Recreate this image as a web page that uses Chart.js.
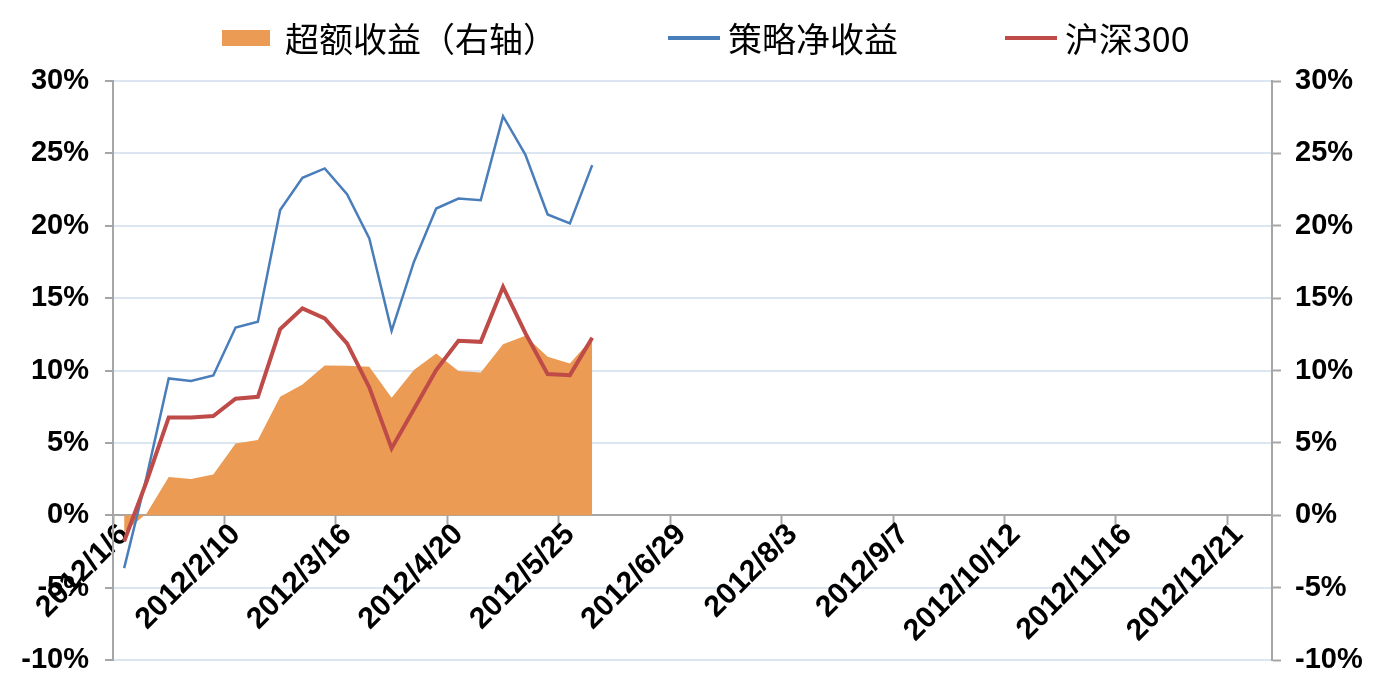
<!DOCTYPE html>
<html>
<head>
<meta charset="utf-8">
<script src="https://cdn.jsdelivr.net/npm/chart.js@4/dist/chart.umd.min.js"></script>
<style>
  html, body { margin: 0; padding: 0; background: #ffffff; }
  #wrap { width: 1380px; height: 678px; position: relative; }
</style>
</head>
<body>
<div id="wrap"><canvas id="c"></canvas></div>
<script>
const categories = [
  "2012/1/6","2012/1/13","2012/1/20","2012/1/27","2012/2/3","2012/2/10","2012/2/17","2012/2/24",
  "2012/3/2","2012/3/9","2012/3/16","2012/3/23","2012/3/30","2012/4/6","2012/4/13","2012/4/20",
  "2012/4/27","2012/5/4","2012/5/11","2012/5/18","2012/5/25","2012/6/1","2012/6/8","2012/6/15",
  "2012/6/22","2012/6/29","2012/7/6","2012/7/13","2012/7/20","2012/7/27","2012/8/3","2012/8/10",
  "2012/8/17","2012/8/24","2012/8/31","2012/9/7","2012/9/14","2012/9/21","2012/9/28","2012/10/5",
  "2012/10/12","2012/10/19","2012/10/26","2012/11/2","2012/11/9","2012/11/16","2012/11/23","2012/11/30",
  "2012/12/7","2012/12/14","2012/12/21","2012/12/28"
];
const seriesNames = ["超额收益（右轴）", "策略净收益", "沪深300"];
// values in %
const excessReturn = [-1.15, 0.1, 2.64, 2.5, 2.82, 4.96, 5.19, 8.18, 9.04, 10.35, 10.33, 10.26, 8.12, 10.03, 11.18, 9.96, 9.87, 11.82, 12.4, 10.95, 10.49, 12.22];
const strategyReturn = [-3.65, 2.6, 9.45, 9.27, 9.66, 12.97, 13.37, 21.08, 23.31, 23.96, 22.18, 19.12, 12.74, 17.5, 21.19, 21.88, 21.77, 27.57, 24.92, 20.78, 20.16, 24.19];
const hs300Return = [-1.8, 2.3, 6.76, 6.76, 6.85, 8.05, 8.18, 12.86, 14.29, 13.6, 11.87, 8.83, 4.62, 7.33, 10.03, 12.05, 11.98, 15.78, 12.58, 9.75, 9.68, 12.26];
const yMin = -10, yMax = 30, yStep = 5;
const labelEvery = 5;

const axisGray = '#A6A6A6';
const gridBlue = '#DCE6F2';
const tickFont = { family: '"Liberation Sans", Arial, sans-serif', size: 29, weight: 'bold' };

// custom legend drawn with the datasets' own styles
const legendStarts = [222, 668, 1005];
const customLegend = {
  id: 'customLegend',
  afterDraw(chart) {
    const ctx = chart.ctx;
    const cy = 38;
    ctx.save();
    ctx.font = '34px "Noto Sans CJK SC", "Liberation Sans", sans-serif';
    ctx.textBaseline = 'middle';
    ctx.textAlign = 'left';
    chart.data.datasets.forEach((ds, i) => {
      const x = legendStarts[i];
      let textX;
      if (ds.fill) {
        ctx.fillStyle = ds.backgroundColor;
        ctx.fillRect(x, cy - 8, 48, 16);
        textX = x + 63;
      } else {
        ctx.strokeStyle = ds.borderColor;
        ctx.lineWidth = 4;
        ctx.beginPath();
        ctx.moveTo(x, cy);
        ctx.lineTo(x + 52, cy);
        ctx.stroke();
        textX = x + 60;
      }
      ctx.fillStyle = '#000000';
      ctx.fillText(ds.label, textX, cy + 1);
    });
    ctx.restore();
  }
};

const fixVertical = (w) => (scale) => {
  scale.width = w;
  scale.paddingTop = 0;
  scale.paddingBottom = 0;
};

new Chart(document.getElementById('c'), {
  type: 'line',
  data: {
    labels: categories,
    datasets: [
      {
        label: seriesNames[0],
        data: excessReturn,
        yAxisID: 'y1',
        order: 3,
        fill: 'origin',
        backgroundColor: '#EB9B53',
        borderColor: 'rgba(0,0,0,0)',
        borderWidth: 0,
        pointRadius: 0,
        tension: 0
      },
      {
        label: seriesNames[1],
        data: strategyReturn,
        yAxisID: 'y',
        order: 2,
        fill: false,
        borderColor: '#4A7EBB',
        backgroundColor: '#4A7EBB',
        borderWidth: 2.5,
        pointRadius: 0,
        tension: 0
      },
      {
        label: seriesNames[2],
        data: hs300Return,
        yAxisID: 'y',
        order: 1,
        fill: false,
        borderColor: '#BE4B48',
        backgroundColor: '#BE4B48',
        borderWidth: 4,
        pointRadius: 0,
        tension: 0
      }
    ]
  },
  plugins: [customLegend],
  options: {
    responsive: true,
    maintainAspectRatio: false,
    animation: false,
    layout: { padding: { left: 0, right: 0, top: 81, bottom: 18 } },
    plugins: {
      tooltip: { enabled: false },
      legend: { display: false }
    },
    scales: {
      x: {
        type: 'category',
        position: { y: 0 },
        offset: true,
        border: { display: true, color: axisGray, width: 2 },
        grid: {
          offset: true,
          drawOnChartArea: false,
          drawTicks: true,
          tickLength: 9,
          tickWidth: 2,
          tickColor: (ctx) => (ctx.index % labelEvery === 0 ? axisGray : 'rgba(0,0,0,0)')
        },
        ticks: {
          autoSkip: false,
          minRotation: 45,
          maxRotation: 45,
          padding: -7,
          color: '#000000',
          font: { family: '"Liberation Sans", Arial, sans-serif', size: 30, weight: 'bold' },
          callback: function (val, idx) {
            return idx % labelEvery === 0 ? this.getLabelForValue(val) : '';
          }
        }
      },
      y: {
        position: 'left',
        min: yMin,
        max: yMax,
        border: { display: true, color: axisGray, width: 2 },
        grid: { color: gridBlue, lineWidth: 2, tickColor: axisGray, tickLength: 8, tickWidth: 2 },
        ticks: {
          stepSize: yStep,
          padding: 16,
          color: '#000000',
          font: tickFont,
          callback: (v) => v + '%'
        },
        afterFit: fixVertical(113)
      },
      y1: {
        position: 'right',
        min: yMin,
        max: yMax,
        border: { display: true, color: axisGray, width: 2 },
        grid: { drawOnChartArea: false, tickColor: axisGray, tickLength: 9, tickWidth: 2 },
        ticks: {
          stepSize: yStep,
          padding: 14,
          color: '#000000',
          font: tickFont,
          callback: (v) => v + '%'
        },
        afterFit: fixVertical(108)
      }
    }
  }
});
</script>
</body>
</html>
